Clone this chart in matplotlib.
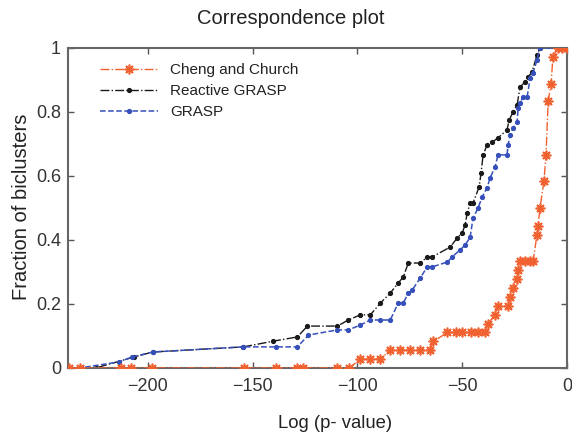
import numpy as np
import matplotlib
matplotlib.use('Agg')
import matplotlib.pyplot as plt
import matplotlib.ticker as ticker

plt.rcParams['font.family'] = ['Liberation Sans', 'DejaVu Sans']

# Cheng and Church
cc_x = [-237.6, -232.4, -212.9, -208, -198, -154, -138.6, -129, -125.7, -109.5, -103.8,
        -98.6, -93.8, -89, -84.3, -79.5, -74.8, -70, -65.2, -63.8,
        -57, -53, -50, -46, -42.4, -39, -37.6, -34.3, -32.9, -28, -27, -25.7, -23.8, -23.3,
        -22.4, -20, -17.6, -16.2, -14.3, -13.8, -12.9, -11, -10, -9, -7.6, -6.7, -4.3, -2.4, 0]
cc_y = [0, 0, 0, 0, 0, 0, 0, 0, 0, 0, 0,
        0.028, 0.028, 0.028, 0.056, 0.056, 0.056, 0.056, 0.056, 0.083,
        0.111, 0.111, 0.111, 0.111, 0.111, 0.111, 0.139, 0.167, 0.194, 0.194, 0.222, 0.25, 0.278, 0.306,
        0.333, 0.333, 0.333, 0.333, 0.417, 0.444, 0.5, 0.583, 0.667, 0.833, 0.889, 0.972, 1, 1, 1]

# Reactive GRASP
rg_x = [-237.6, -224.8, -206.7, -197.6, -154.3, -140, -128.6, -123.8, -109.5, -104.3, -98.6,
        -93.8, -89, -84.3, -80.5, -78.1, -75.7, -70, -66.7, -64.3, -55.7, -52.4, -50, -48.6,
        -47.6, -46.2, -44.8, -41.9, -41, -40, -38.1, -35.7, -32.9, -28.6, -27.6, -25.7, -23.8,
        -22.4, -20, -18.6, -16.7, -14.3, -12.9, 0]
rg_y = [0, 0, 0.034, 0.05, 0.066, 0.084, 0.097, 0.131, 0.131, 0.15, 0.166,
        0.166, 0.203, 0.234, 0.266, 0.284, 0.328, 0.328, 0.347, 0.347, 0.378, 0.406, 0.422, 0.447,
        0.484, 0.516, 0.516, 0.566, 0.609, 0.666, 0.697, 0.706, 0.719, 0.744, 0.775, 0.8, 0.822,
        0.878, 0.894, 0.909, 0.925, 0.978, 1, 1]

# GRASP
gr_x = [-237.6, -232.4, -213.8, -207.6, -197.6, -154.3, -139, -128.6, -123.3, -109.5, -104.3,
        -98.6, -93.8, -89, -84.3, -80.5, -78.1, -75.7, -73.8, -70, -66.7, -64.3, -57.1, -54.8,
        -51, -48.6, -46.2, -44.8, -42.4, -40.5, -38.1, -36.7, -34.3, -32.9, -28.6, -28.1, -27.1,
        -25.7, -23.8, -23.3, -22.4, -21, -19, -17.6, -16.2, -14.3, -12.9, 0]
gr_y = [0, 0, 0.019, 0.034, 0.05, 0.066, 0.066, 0.066, 0.103, 0.119, 0.119,
        0.134, 0.15, 0.15, 0.15, 0.203, 0.203, 0.234, 0.244, 0.281, 0.316, 0.316, 0.331, 0.347,
        0.369, 0.384, 0.409, 0.469, 0.5, 0.534, 0.563, 0.594, 0.628, 0.666, 0.666, 0.697, 0.728,
        0.75, 0.769, 0.8125, 0.828, 0.847, 0.847, 0.906, 0.922, 0.9625, 1, 1]

x_ticks = [-200, -150, -100, -50, 0]
y_ticks = [0, 0.2, 0.4, 0.6, 0.8, 1]

orange = '#f0612f'
black = '#1a1a1a'
blue = '#3650bb'

fig = plt.figure(figsize=(5.72, 4.33), dpi=100)
ax = fig.add_axes([68 / 572, 1 - 368 / 433, 499 / 572, 320 / 433])

ax.plot(cc_x, cc_y, linestyle='-.', color=orange, lw=1.0, marker=(8, 2, 0),
        markersize=7, markeredgewidth=1.2, label='Cheng and Church', zorder=4)
ax.plot(rg_x, rg_y, linestyle='-.', color=black, lw=1.0, marker='.',
        markersize=5.5, label='Reactive GRASP', zorder=2)
ax.plot(gr_x, gr_y, linestyle='--', color=blue, lw=1.1, marker='.',
        markersize=5.5, label='GRASP', zorder=3)

ax.set_xlim(-238, 0)
ax.set_ylim(0, 1)
ax.xaxis.set_major_locator(ticker.FixedLocator(x_ticks))
ax.yaxis.set_major_locator(ticker.FixedLocator(y_ticks))
ax.yaxis.set_major_formatter(ticker.FuncFormatter(lambda v, p: '%g' % v))
ax.tick_params(axis='both', which='major', direction='in', length=4, width=1,
               color='#555555', labelsize=13, labelcolor='#333333',
               top=True, right=True, pad=5)
ax.tick_params(axis='x', pad=7)
for sp in ax.spines.values():
    sp.set_color('#666666')
    sp.set_linewidth(1.5)

leg = ax.legend(loc='upper left', bbox_to_anchor=(0.046, 0.981), borderaxespad=0,
                borderpad=0.6, frameon=False, fontsize=11, handlelength=3.8,
                handletextpad=0.8, labelspacing=0.45, numpoints=1)
for t in leg.get_texts():
    t.set_color('#222222')

fig.text(291 / 572, 1 - 18 / 433, 'Correspondence plot', fontsize=14.5,
         ha='center', va='center', color='#222222')
fig.text(335 / 572, 1 - 423 / 433, 'Log (p- value)', fontsize=13.3,
         ha='center', va='center', color='#222222')
fig.text(22 / 572, 1 - 207 / 433, 'Fraction of biclusters', fontsize=14.5,
         ha='center', va='center', rotation=90, color='#222222')

fig.savefig('out.png', dpi=100)
